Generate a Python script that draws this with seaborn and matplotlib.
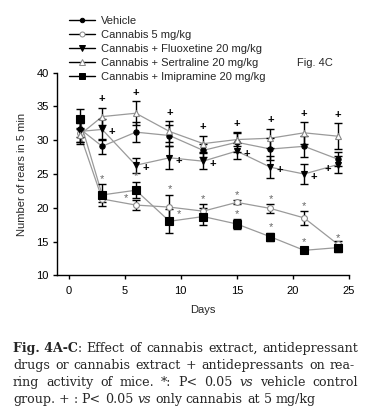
import numpy as np
import pandas as pd
import matplotlib
matplotlib.use("Agg")
import matplotlib.pyplot as plt
from matplotlib.lines import Line2D
import seaborn as sns

# ---------------- data ----------------
days = [1, 3, 6, 9, 12, 15, 18, 21, 24]
series_names = ["Vehicle", "Cannabis 5 mg/kg", "Cannabis + Fluoxetine 20 mg/kg",
                "Cannabis + Sertraline 20 mg/kg", "Cannabis + Imipramine 20 mg/kg"]
vehicle = [31.7, 29.1, 31.2, 30.7, 28.5, 29.7, 28.7, 29.1, 27.2]
cannabis = [31.0, 21.3, 20.4, 20.1, 19.5, 20.8, 19.9, 18.5, 14.6]
fluoxetine = [31.3, 31.6, 26.3, 27.4, 26.9, 28.4, 26.0, 25.0, 26.4]
sertraline = [30.8, 33.5, 34.0, 31.3, 29.5, 30.1, 30.3, 31.1, 30.6]
imipramine = [33.1, 21.9, 22.6, 18.0, 18.7, 17.6, 15.7, 13.7, 14.1]

vehicle_sem = [1.2, 1.1, 1.5, 1.5, 1.0, 1.5, 1.6, 1.6, 1.0]
cannabis_sem = [1.5, 0.5, 0.7, 1.8, 1.0, 0.3, 0.6, 1.0, 0.5]
fluoxetine_sem = [1.5, 1.5, 1.1, 1.7, 1.2, 1.2, 1.6, 1.5, 1.2]
sertraline_sem = [1.0, 1.3, 1.8, 1.5, 1.2, 1.0, 1.4, 1.6, 1.9]
imipramine_sem = [1.5, 1.6, 1.2, 1.8, 1.2, 0.7, 0.6, 0.4, 0.6]

# significance flags (+ vs cannabis, * vs vehicle)
sertraline_plus = [0, 1, 1, 1, 1, 1, 1, 1, 1]
fluoxetine_plus = [0, 1, 1, 1, 1, 1, 1, 1, 1]
cannabis_star = [0, 0, 1, 1, 1, 1, 1, 1, 0]
imipramine_star = [0, 1, 1, 1, 0, 1, 1, 1, 1]

x_ticks = [0, 5, 10, 15, 20, 25]
y_ticks = [10, 15, 20, 25, 30, 35, 40]

means = [vehicle, cannabis, fluoxetine, sertraline, imipramine]
sems = [vehicle_sem, cannabis_sem, fluoxetine_sem, sertraline_sem, imipramine_sem]

rows = []
for name, m, s in zip(series_names, means, sems):
    for d, v, e in zip(days, m, s):
        rows.append({"Days": d, "value": v, "sem": e, "group": name})
df = pd.DataFrame(rows)

# ---------------- style ----------------
sns.set_style("ticks")
plt.rcParams["font.family"] = ["Liberation Sans", "DejaVu Sans"]

fig = plt.figure(figsize=(3.75, 4.15), dpi=100)
ax = fig.add_axes([0.1528, 0.3366, 0.7779, 0.4882])

marker_style = {
    series_names[0]: dict(marker="o", ms=3.8, mfc="black", mec="black"),
    series_names[1]: dict(marker="o", ms=4.2, mfc="white", mec="#888888"),
    series_names[2]: dict(marker="v", ms=4.6, mfc="black", mec="black"),
    series_names[3]: dict(marker="^", ms=4.6, mfc="white", mec="#888888"),
    series_names[4]: dict(marker="s", ms=5.2, mfc="black", mec="black"),
}
line_col = "#9a9a9a"

# lines through seaborn
sns.lineplot(data=df, x="Days", y="value", hue="group", hue_order=series_names,
             palette=[line_col] * 5, errorbar=None, legend=False, lw=0.9, ax=ax,
             zorder=2)

# error bars + markers
for name in series_names:
    sub = df[df["group"] == name]
    ax.errorbar(sub["Days"], sub["value"], yerr=sub["sem"], fmt="none",
                ecolor="black", elinewidth=1.0, capsize=2.6, capthick=1.0, zorder=3)
for name in series_names:
    sub = df[df["group"] == name]
    st = marker_style[name]
    ax.plot(sub["Days"], sub["value"], ls="none", marker=st["marker"], ms=st["ms"],
            mfc=st["mfc"], mec=st["mec"], mew=0.8, zorder=4)

# significance annotations
def annotate(vals, errs, flags, sym, dx, dy, color, size, top=True):
    for d, v, e, f in zip(days, vals, errs, flags):
        if not f:
            continue
        yy = v + e if top else v
        ax.annotate(sym, (d, yy), xytext=(dx, dy), textcoords="offset points",
                    ha="center", va="center", fontsize=size, color=color,
                    fontweight="bold" if sym == "+" else "normal", zorder=5)

annotate(sertraline, sertraline_sem, sertraline_plus, "+", 0, 6, "black", 8)
fl_flags_right = fluoxetine_plus[:-1] + [0]
annotate(fluoxetine, fluoxetine_sem, fl_flags_right, "+", 7, -2, "black", 8, top=False)
annotate(fluoxetine, fluoxetine_sem, [0] * 8 + [1], "+", -7, -3, "black", 8, top=False)

star_col = "#666666"
c_above = cannabis_star[:]
c_above[2] = 0
annotate(cannabis, cannabis_sem, c_above, "*", 0, 4, star_col, 8)
annotate(cannabis, cannabis_sem, [0, 0, 1, 0, 0, 0, 0, 0, 0], "*", -7, 5, star_col, 8, top=False)
i_above = imipramine_star[:]
i_above[3] = 0
annotate(imipramine, imipramine_sem, i_above, "*", 0, 4, star_col, 8)
annotate(imipramine, imipramine_sem, [0, 0, 0, 1, 0, 0, 0, 0, 0], "*", 7, 5, star_col, 8, top=False)

# axes
ax.set_xlim(-1, 25)
ax.set_ylim(10, 40)
ax.set_xticks(x_ticks)
ax.set_yticks(y_ticks)
sns.despine(ax=ax)
for sp in ["left", "bottom"]:
    ax.spines[sp].set_linewidth(1.0)
    ax.spines[sp].set_color("black")
ax.tick_params(axis="both", direction="out", length=3, width=1.0, labelsize=8,
               colors="black", pad=3)
ax.tick_params(axis="x", pad=5)
ax.set_xlabel("Days", fontsize=8, labelpad=6)
ax.set_ylabel("Number of rears in 5 min", fontsize=8, labelpad=7)

# legend
handles = []
for name in series_names:
    st = marker_style[name]
    handles.append(Line2D([0], [0], color="black", lw=1.0, marker=st["marker"],
                          ms=st["ms"] - 0.6, mfc=st["mfc"],
                          mec="black" if st["mfc"] == "black" else "#888888", mew=0.7))
fig.legend(handles, series_names, loc="upper left", bbox_to_anchor=(0.183, 0.962),
           frameon=False, fontsize=8, handlelength=2.4, handletextpad=0.5,
           labelspacing=0.36, borderpad=0, borderaxespad=0)

fig.text(0.792, 0.848, "Fig. 4C", fontsize=8, va="center", ha="left")

# caption with mixed styles, justified
serif = ["DejaVu Serif"]
cap_size = 9.1
fig.canvas.draw()
renderer = fig.canvas.get_renderer()
W = fig.bbox.width

def draw_words(words, x0, y0, x1=None):
    # words: list of (text, weight, style); a space separates consecutive words
    texts, widths = [], []
    for txt, weight, style in words:
        t = fig.text(0, y0, txt, fontsize=cap_size, family=serif, fontweight=weight,
                     fontstyle=style, ha="left", va="baseline")
        texts.append(t)
        widths.append(t.get_window_extent(renderer=renderer).width / W)
    probe = fig.text(0, 0, "a a", fontsize=cap_size, family=serif)
    probe2 = fig.text(0, 0, "aa", fontsize=cap_size, family=serif)
    space = (probe.get_window_extent(renderer=renderer).width
             - probe2.get_window_extent(renderer=renderer).width) / W
    probe.remove()
    probe2.remove()
    gaps = len(words) - 1
    if x1 is not None and gaps > 0:
        space = (x1 - x0 - sum(widths)) / gaps
    x = x0
    for t, w in zip(texts, widths):
        t.set_x(x)
        x += w + space

N = ("normal", "normal")
B = ("bold", "normal")
I = ("normal", "italic")
cap_lines = [
    [("Fig.",) + B, ("4A-C",) + B, (": Effect",) + N, ("of",) + N, ("cannabis",) + N,
     ("extract,",) + N, ("antidepressant",) + N],
    [(w,) + N for w in "drugs or cannabis extract + antidepressants on rea-".split()],
    [(w,) + N for w in "ring activity of mice. *: P< 0.05".split()] + [("vs",) + I] +
    [(w,) + N for w in "vehicle control".split()],
    [(w,) + N for w in "group. + : P< 0.05".split()] + [("vs",) + I] +
    [(w,) + N for w in "only cannabis at 5 mg/kg".split()],
]
# "4A-C" directly followed by ":" without a space
cap_lines[0] = [("Fig.",) + B, ("4A-C",) + B]
baselines = [351.5, 368.5, 385.5, 403]
x_left = 13 / 375
x_right = [358 / 375, 355 / 375, 358 / 375, None]

# line 1 handled with bold head followed by justified body
head = fig.text(x_left, 1 - baselines[0] / 415, "Fig. 4A-C", fontsize=cap_size,
                family=serif, fontweight="bold", ha="left", va="baseline")
hw = head.get_window_extent(renderer=renderer).width / W
body1 = [(w,) + N for w in ": Effect of cannabis extract, antidepressant".split()]
draw_words(body1, x_left + hw, 1 - baselines[0] / 415, x_right[0])
for i in range(1, 4):
    draw_words(cap_lines[i], x_left, 1 - baselines[i] / 415, x_right[i])

fig.savefig("out.png", dpi=100)
